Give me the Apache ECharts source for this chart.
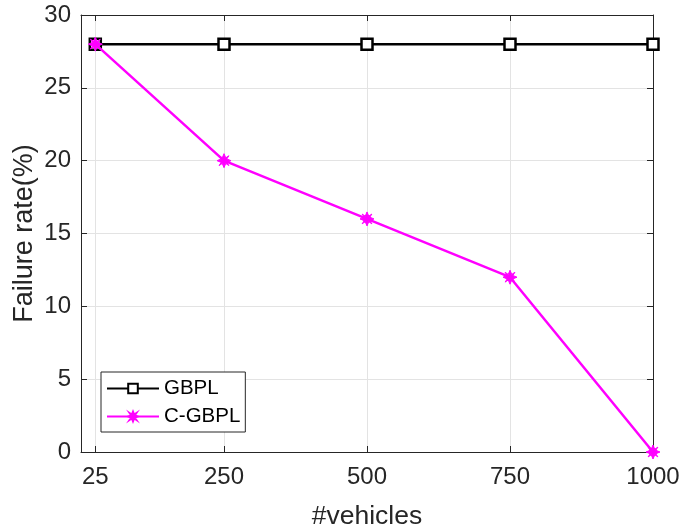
<!DOCTYPE html>
<html><head><meta charset="utf-8">
<script src="https://cdn.jsdelivr.net/npm/echarts@6/dist/echarts.min.js"></script>
<style>html,body{margin:0;padding:0;background:#fff}#c{width:681px;height:529px}</style>
</head><body><div id="c"></div>
<script>
const vehicles = [25, 250, 500, 750, 1000];
const gbpl = [28, 28, 28, 28, 28];
const cgbpl = [28, 20, 16, 12, 0];
const xTicks = [25, 250, 500, 750, 1000];
const seriesNames = ['GBPL', 'C-GBPL'];

const FONT = 'Liberation Sans, Arial, Helvetica, sans-serif';
const TXT = '#262626';
const star = 'path://M0,-10 L2.5,-4 L7,-7 L4,-2.5 L10,0 L4,2.5 L7,7 L2.5,4 L0,10 L-2.5,4 L-7,7 L-4,2.5 L-10,0 L-4,-2.5 L-7,-7 L-2.5,-4 Z';

const chart = echarts.init(document.getElementById('c'), null, {renderer: 'canvas'});
const baseX = {
  type: 'value', min: 0, max: 1000,
  axisLine: {show: true, onZero: false, lineStyle: {color: TXT, width: 1}},
  axisTick: {show: true, inside: true, length: 6, customValues: xTicks, lineStyle: {color: TXT}},
  splitLine: {show: true, lineStyle: {color: '#e3e3e3', width: 1}}
};
const baseY = {
  type: 'value', min: 0, max: 30, interval: 5,
  axisLine: {show: true, onZero: false, lineStyle: {color: TXT, width: 1}},
  axisTick: {show: true, inside: true, length: 6, lineStyle: {color: TXT}},
  splitLine: {show: true, lineStyle: {color: '#e3e3e3', width: 1}}
};
chart.setOption({
  animation: false,
  backgroundColor: '#fff',
  grid: {left: 81, right: 28, top: 15, bottom: 77, containLabel: false, outerBoundsMode: 'none'},
  xAxis: [
    Object.assign({}, baseX, {
      position: 'bottom',
      name: '#vehicles', nameLocation: 'middle', nameGap: 51, nameMoveOverlap: false,
      nameTextStyle: {fontFamily: FONT, fontSize: 26.5, color: TXT},
      axisLabel: {show: true, customValues: xTicks, margin: 13, fontFamily: FONT, fontSize: 24, color: TXT,
        formatter: v => String(v)}
    }),
    Object.assign({}, baseX, {
      position: 'top', splitLine: {show: false},
      axisLabel: {show: false, customValues: xTicks}
    })
  ],
  yAxis: [
    Object.assign({}, baseY, {
      position: 'left',
      name: 'Failure rate(%)', nameLocation: 'middle', nameGap: 43, nameMoveOverlap: false,
      nameTextStyle: {fontFamily: FONT, fontSize: 27, color: TXT},
      axisLabel: {show: true, margin: 10, fontFamily: FONT, fontSize: 24, color: TXT}
    }),
    Object.assign({}, baseY, {
      position: 'right', splitLine: {show: false},
      axisLabel: {show: false}
    })
  ],
  legend: {
    orient: 'vertical', left: 101, top: 372,
    data: seriesNames,
    itemWidth: 52, itemHeight: 12, itemGap: 7,
    padding: [6, 5, 5, 5],
    backgroundColor: '#fff', borderColor: TXT, borderWidth: 1, borderRadius: 0,
    textStyle: {fontFamily: FONT, fontSize: 20.5, color: '#000'}
  },
  series: [
    {
      name: seriesNames[0], type: 'line', xAxisIndex: 0, yAxisIndex: 0,
      data: vehicles.map((v, i) => [v, gbpl[i]]),
      symbol: 'rect', symbolSize: 11,
      itemStyle: {color: '#fff', borderColor: '#000', borderWidth: 2.5},
      lineStyle: {color: '#000', width: 2.5},
      z: 3
    },
    {
      name: seriesNames[1], type: 'line', xAxisIndex: 0, yAxisIndex: 0,
      data: vehicles.map((v, i) => [v, cgbpl[i]]),
      symbol: star, symbolSize: 14,
      itemStyle: {color: '#ff00ff', borderColor: '#ff00ff', borderWidth: 1},
      lineStyle: {color: '#ff00ff', width: 2.5},
      z: 4
    }
  ]
});
</script></body></html>
